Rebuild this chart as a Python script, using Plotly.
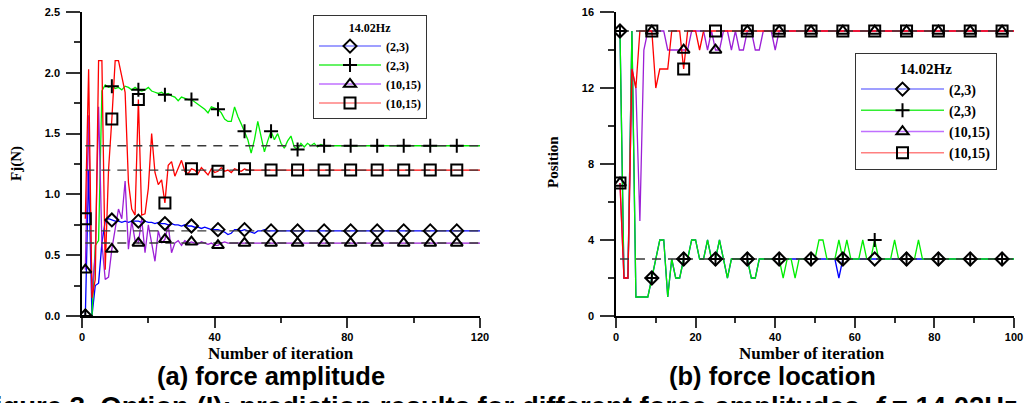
import plotly.graph_objects as go

# ---------------- data: (a) force amplitude ----------------
iter_a = list(range(1, 121))
amp_blue = [0.0, 1.2, 0.0, 0.25, 0.27, 0.6, 0.78, 0.8, 0.79, 0.78,
            0.78, 0.77, 0.78, 0.77, 0.78, 0.78, 0.78, 0.77, 0.78, 0.77,
            0.77, 0.76, 0.77, 0.76, 0.76, 0.75, 0.76, 0.75, 0.75, 0.74,
            0.75, 0.74, 0.74, 0.73, 0.73, 0.72, 0.73, 0.72, 0.71, 0.71,
            0.71, 0.7, 0.69, 0.67, 0.68, 0.71, 0.71, 0.7, 0.71, 0.7,
            0.69, 0.68, 0.7, 0.7, 0.71, 0.7] + [0.7] * 64
amp_green = [0.0, 0.0, 0.0, 0.58, 0.62, 1.85, 1.9, 1.88, 1.89, 1.87,
             1.88, 1.86, 1.89, 1.88, 1.86, 1.88, 1.86, 1.85, 1.86, 1.88,
             1.85, 1.84, 1.83, 1.84, 1.82, 1.83, 1.81, 1.8, 1.77, 1.8,
             1.79, 1.78, 1.78, 1.76, 1.74, 1.72, 1.7, 1.67, 1.72, 1.71,
             1.7, 1.67, 1.62, 1.6, 1.6, 1.72, 1.64, 1.58, 1.52, 1.45,
             1.34, 1.45, 1.6, 1.48, 1.35, 1.44, 1.52, 1.45, 1.5, 1.42,
             1.38, 1.44, 1.48, 1.39, 1.37, 1.42, 1.39, 1.42, 1.4, 1.42,
             1.39, 1.41, 1.4] + [1.4] * 47
amp_purple = [0.38, 1.65, 0.2, 0.5, 1.72, 0.6, 0.3, 0.32, 0.55, 0.7,
              0.88, 0.8, 1.11, 0.55, 0.78, 0.62, 0.6, 0.8, 0.52, 0.75,
              0.6, 0.45, 0.7, 0.6, 0.63, 0.75, 0.52, 0.6, 0.62, 0.58,
              0.62, 0.6, 0.61, 0.6, 0.59, 0.61, 0.6, 0.59, 0.6, 0.58,
              0.58, 0.6, 0.61, 0.6] + [0.6] * 76
amp_red = [0.8, 2.03, 0.15, 0.3, 2.1, 2.1, 0.38, 1.2, 1.62, 2.1,
           2.1, 1.98, 1.84, 1.1, 0.88, 0.83, 1.78, 0.83, 0.84, 1.05,
           1.5, 1.18, 1.08, 1.12, 0.93, 1.24, 1.27, 1.15, 1.22, 1.28,
           1.19, 1.17, 1.21, 1.2, 1.17, 1.22, 1.19, 1.16, 1.21, 1.18,
           1.19, 1.22, 1.19, 1.2, 1.18, 1.21, 1.2, 1.19, 1.21, 1.2] + [1.2] * 70
amp_true = [1.4, 1.2, 0.7, 0.6]

# ---------------- data: (b) force location ----------------
iter_b = list(range(1, 101))
loc_blue = [15, 2, 2, 15, 1, 1, 1, 1, 2, 3,
            4, 4, 1, 3, 2, 2, 3, 3, 4, 4,
            3, 3, 4, 3, 3, 4, 3, 2, 3, 3,
            3, 3, 3, 2, 2, 3, 3, 3, 3, 3,
            3, 3, 3, 3, 3, 3, 3, 3, 3, 3,
            3, 3, 3, 3, 3, 2] + [3] * 44
loc_green = [15, 2, 2, 15, 1, 1, 1, 1, 2, 3,
             4, 4, 1, 3, 2, 2, 3, 3, 4, 4,
             3, 3, 4, 3, 3, 4, 3, 2, 3, 3,
             3, 3, 3, 2, 2, 3, 3, 3, 3, 3,
             3, 2, 3, 3, 2, 3, 3, 3, 3, 3,
             4, 4, 3, 3, 3, 4, 3, 4, 3, 3,
             3, 4, 3, 3, 4, 3, 3, 3, 3, 4,
             3, 3, 3, 3, 3, 4] + [3] * 24
loc_purple = [7, 2, 2, 13, 12, 5, 14, 15, 15, 15,
              15, 15, 14, 14, 14, 14, 14, 14, 15, 15,
              15, 15, 14, 15, 14, 14, 15, 15, 14, 15,
              14, 14, 15, 15, 14, 14, 15, 15, 15, 14] + [15] * 60
loc_red = [7, 2, 2, 13, 12, 15, 15, 15, 15, 12,
           13, 13, 13, 15, 15, 15, 13, 15, 15, 15,
           14] + [15] * 79
loc_true = [15, 3]

legend_title = "14.02Hz"
series_names = ["(2,3)", "(2,3)", "(10,15)", "(10,15)"]
line_colors = ["#0000ff", "#00ee00", "#9c1fd6", "#ff0000"]
legend_line_colors = ["#7f7fff", "#33ee33", "#c070ff", "#ff8080"]
symbols = ["diamond-open", "cross-thin-open", "triangle-up-open", "square-open"]
sizes = [10, 10, 10.5, 11]
MARK_EVERY = 8

W, H = 1029, 403
SERIF = "Liberation Serif, Times New Roman, serif"
SANS = "Liberation Sans, Arial, sans-serif"

fig = go.Figure()


def add_panel(xs, series, truths, xa, ya, legend_id):
    for vals, c in zip(series, line_colors):
        fig.add_trace(go.Scatter(x=xs, y=vals, mode="lines", xaxis=xa, yaxis=ya,
                                 line=dict(color=c, width=1.3), showlegend=False,
                                 hoverinfo="skip"))
    for t in truths:
        fig.add_trace(go.Scatter(x=[xs[0], xs[-1]], y=[t, t], mode="lines",
                                 xaxis=xa, yaxis=ya,
                                 line=dict(color="#3a3a3a", width=1.4, dash="9px,7px"),
                                 showlegend=False, hoverinfo="skip"))
    for vals, sym, sz in zip(series, symbols, sizes):
        fig.add_trace(go.Scatter(x=xs[::MARK_EVERY], y=vals[::MARK_EVERY], mode="markers",
                                 xaxis=xa, yaxis=ya,
                                 marker=dict(symbol=sym, size=sz, color="black",
                                             line=dict(color="black", width=2)),
                                 showlegend=False, hoverinfo="skip"))
    for name, c, sym, sz in zip(series_names, legend_line_colors, symbols, sizes):
        fig.add_trace(go.Scatter(x=[None], y=[None], mode="lines+markers", name=name,
                                 xaxis=xa, yaxis=ya, legend=legend_id,
                                 line=dict(color=c, width=1.5),
                                 marker=dict(symbol=sym, size=sz, color="black",
                                             line=dict(color="black", width=2))))


add_panel(iter_a, [amp_blue, amp_green, amp_purple, amp_red], amp_true, "x", "y", "legend")
add_panel(iter_b, [loc_blue, loc_green, loc_purple, loc_red], loc_true, "x2", "y2", "legend2")

tickfont = dict(family=SANS, size=11, color="black", weight="bold")
ydom = [(H - 316) / H, (H - 12) / H]


def xaxis_cfg(dom, rng, dtick, mdtick):
    return dict(domain=dom, range=rng, dtick=dtick, tick0=0, showgrid=False, zeroline=False,
                automargin=False,
                showline=True, linecolor="black", linewidth=1.5,
                ticks="outside", ticklen=10, tickwidth=1.5, tickcolor="#333",
                tickfont=tickfont, ticklabelstandoff=0,
                minor=dict(dtick=mdtick, ticks="outside", ticklen=5, tickwidth=1.5,
                           tickcolor="#333", showgrid=False))


def yaxis_cfg(rng, dtick, mdtick, fmt):
    return dict(domain=ydom, range=rng, dtick=dtick, tick0=0, showgrid=False, zeroline=False,
                automargin=False,
                showline=True, linecolor="black", linewidth=1.5,
                ticks="outside", ticklen=14, tickwidth=1.5, tickcolor="#333",
                tickfont=tickfont, tickformat=fmt, ticklabelstandoff=4,
                minor=dict(dtick=mdtick, ticks="outside", ticklen=6, tickwidth=1.5,
                           tickcolor="#333", showgrid=False))


xa = xaxis_cfg([82 / W, 480 / W], [0, 120], 40, 20)
xb = xaxis_cfg([616 / W, 1014 / W], [0, 100], 20, 10)
xb["anchor"] = "y2"
ya = yaxis_cfg([0, 2.5], 0.5, 0.25, ".1f")
yb = yaxis_cfg([0, 16], 4, 2, "d")
yb["anchor"] = "x2"


def legend_cfg(x0, y0, fs, tfs, iw):
    return dict(x=x0 / W, y=(H - y0) / H, xanchor="left", yanchor="top",
                bgcolor="white", bordercolor="#333", borderwidth=1,
                font=dict(family=SERIF, size=fs, color="black", weight="bold"),
                title=dict(text=legend_title, side="top center",
                           font=dict(family=SERIF, size=tfs, color="black", weight="bold")),
                itemwidth=iw, tracegroupgap=0)


annotations = []


def ann(text, x, y, font, angle=0, xanchor="center", yanchor="middle"):
    annotations.append(dict(text=text, x=x / W, y=(H - y) / H, xref="paper", yref="paper",
                            showarrow=False, textangle=angle, font=font,
                            xanchor=xanchor, yanchor=yanchor))


serif_title = dict(family=SERIF, size=15, color="black")
ann("<b>Fj(N)</b>", 17, 164, serif_title, angle=-90)
ann("<b>Position</b>", 553, 162, serif_title, angle=-90)
ann("<b>Number of iteration</b>", 281, 353, dict(family=SERIF, size=17, color="black"))
ann("<b>Number of iteration</b>", 812, 353, dict(family=SERIF, size=17, color="black"))
cap_font = dict(family=SANS, size=25.5, color="black")
ann("<b>(a) force amplitude</b>", 271, 376, cap_font)
ann("<b>(b) force location</b>", 772, 376, cap_font)
ann("<b>Figure 3. Option (I): prediction results for different force amplitudes, <i>f</i> = 14.02Hz</b>",
    -24, 389, dict(family=SANS, size=27.5, color="black"), xanchor="left", yanchor="top")

fig.update_layout(
    template="none",
    width=W, height=H, margin=dict(l=0, r=0, t=0, b=0, autoexpand=False),
    paper_bgcolor="white", plot_bgcolor="white",
    xaxis=xa, yaxis=ya, xaxis2=xb, yaxis2=yb,
    legend=legend_cfg(313, 15, 12, 12, 62),
    legend2=legend_cfg(855, 53, 14, 15, 83),
    annotations=annotations,
    showlegend=True,
)

fig.write_html("out.html", config={"displayModeBar": False},
               post_script="document.body.style.margin='0';document.body.style.padding='0';"
                           "document.body.style.overflow='hidden';")
